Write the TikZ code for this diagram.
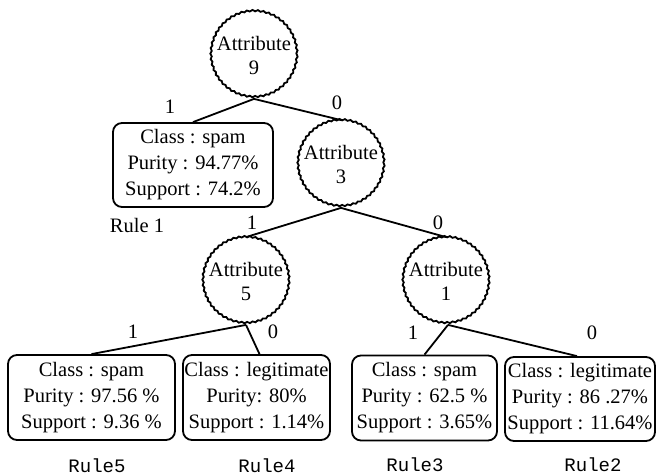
\documentclass[tikz,border=0pt]{standalone}
\usepackage{fontspec}
\setmainfont{Liberation Serif}
\setmonofont{Liberation Mono}
\usetikzlibrary{decorations.pathmorphing}

\tikzset{
  attr/.style={circle, draw, line width=1.8pt, minimum size=86pt, inner sep=0pt,
    align=center, font=\fontsize{20.5}{24}\selectfont,
    decorate, decoration={snake, segment length=5.5pt, amplitude=0.7pt}},
  leaf/.style={draw, line width=1.8pt, rounded corners=9pt, inner sep=0pt,
    align=center, font=\fontsize{20.5}{26}\selectfont},
  branch/.style={line width=1.8pt},
  blabel/.style={font=\fontsize{20.5}{22}\selectfont, inner sep=0pt},
  rulelbl/.style={font=\ttfamily\fontsize{19}{22}\selectfont, inner sep=0pt},
}

\begin{document}
\begin{tikzpicture}[x=1pt, y=-1pt]
\useasboundingbox (0,0) rectangle (657,476);

% decision nodes
\node[attr] (a9) at (254,55)  {Attribute\\9};
\node[attr] (a3) at (341,164) {Attribute\\3};
\node[attr] (a5) at (246,281) {Attribute\\5};
\node[attr] (a1) at (446,281) {Attribute\\1};

% leaves
\node[leaf, minimum width=160pt, minimum height=84pt] (r1) at (193,165)
  {Class : spam\\Purity : 94.77\%\\Support : 74.2\%};
\node[leaf, minimum width=167pt, minimum height=85pt] (r5) at (91.5,397.5)
  {Class : spam\\Purity : 97.56 \%\\Support : 9.36 \%};
\node[leaf, minimum width=147pt, minimum height=85pt] (r4) at (256.5,397.5)
  {Class : legitimate\\Purity: 80\%\\Support : 1.14\%};
\node[leaf, minimum width=145pt, minimum height=85pt] (r3) at (424.5,398)
  {Class : spam\\Purity : 62.5 \%\\Support : 3.65\%};
\node[leaf, minimum width=150pt, minimum height=84pt] (r2) at (580,399)
  {Class : legitimate\\Purity : 86 .27\%\\Support : 11.64\%};

% branches
\draw[branch] (a9.south) -- (r1.north);
\draw[branch] (a9.south) -- (a3.north);
\draw[branch] (a3.south) -- (a5.north);
\draw[branch] (a3.south) -- (a1.north);
\draw[branch] (a5.south) -- (r5.north);
\draw[branch] (a5.south) -- ([xshift=3pt]r4.north);
\draw[branch] ([xshift=2pt]a1.south) -- (r3.north);
\draw[branch] ([xshift=2pt]a1.south) -- ([xshift=-3pt]r2.north);

% branch values
\node[blabel] (l91) at (170,107) {1};
\node[blabel] (l90) at (337,103) {0};
\node[blabel] (l31) at (252,223) {1};
\node[blabel] (l30) at (438,223) {0};
\node[blabel] (l51) at (133,332) {1};
\node[blabel] (l50) at (273,332) {0};
\node[blabel] (l11) at (413,333) {1};
\node[blabel] (l10) at (592,333) {0};

% rule names
\node[blabel] (n1) at (137,225) {Rule 1};
\node[rulelbl] (n5) at (97,466)  {Rule5};
\node[rulelbl] (n4) at (267,466) {Rule4};
\node[rulelbl] (n3) at (415,465) {Rule3};
\node[rulelbl] (n2) at (593,465) {Rule2};
\end{tikzpicture}
\end{document}
